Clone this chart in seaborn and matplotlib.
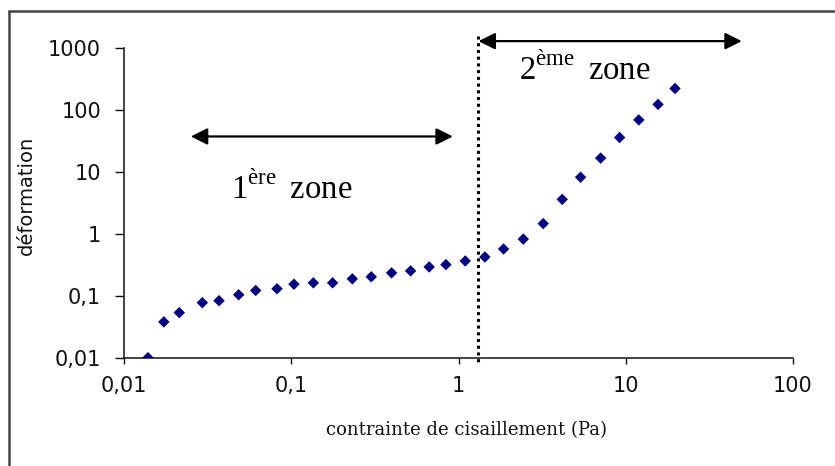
import matplotlib
matplotlib.use("Agg")
import matplotlib.pyplot as plt
from matplotlib.lines import Line2D
import seaborn as sns
import pandas as pd

# Shear stress (Pa) and resulting strain, read as a log-log flow curve
stress = [0.0139, 0.0173, 0.0214, 0.0294, 0.037, 0.0485, 0.0613, 0.0822, 0.1038,
          0.1355, 0.1767, 0.2317, 0.3008, 0.398, 0.517, 0.668, 0.841, 1.097,
          1.438, 1.86, 2.44, 3.21, 4.17, 5.37, 7.08, 9.19, 11.97, 15.6, 19.7]
strain = [0.0100, 0.0379, 0.0535, 0.0775, 0.0834, 0.104, 0.122, 0.130, 0.154,
          0.162, 0.162, 0.188, 0.203, 0.235, 0.253, 0.293, 0.319, 0.366,
          0.424, 0.571, 0.826, 1.47, 3.62, 8.26, 16.8, 36.2, 69.7, 124, 224]

x_ticks = [0.01, 0.1, 1, 10, 100]
x_tick_labels = ["0,01", "0,1", "1", "10", "100"]
y_ticks = [0.01, 0.1, 1, 10, 100, 1000]
y_tick_labels = ["0,01", "0,1", "1", "10", "100", "1000"]

# Yield stress separating the two regimes
threshold = 1.30
zone1_span = [0.0251, 0.925]
zone1_level = 37.6
zone2_span = [1.318, 49.4]
zone2_level = 1306

sns.set_theme(style="white")
plt.rcParams["font.family"] = ["DejaVu Sans"]
plt.rcParams["mathtext.fontset"] = "custom"
plt.rcParams["mathtext.rm"] = "Liberation Serif"

df = pd.DataFrame({"stress": stress, "strain": strain})

fig = plt.figure(figsize=(8.35, 4.66), dpi=100, facecolor="white")
ax = fig.add_axes([124 / 835, 1 - 357.7 / 466, (793 - 124) / 835, (357.7 - 48.3) / 466])
ax.set_facecolor("white")

sns.scatterplot(data=df, x="stress", y="strain", ax=ax, marker="D", s=34,
                color="#000080", edgecolor="none", linewidth=0, zorder=3)

ax.set_xscale("log")
ax.set_yscale("log")
ax.set_xlim(0.01, 100)
ax.set_ylim(0.01, 1000)

ax.set_xticks(x_ticks)
ax.set_xticklabels(x_tick_labels)
ax.set_yticks(y_ticks)
ax.set_yticklabels(y_tick_labels)
ax.minorticks_off()

for side in ("top", "right"):
    ax.spines[side].set_visible(False)
for side in ("left", "bottom"):
    ax.spines[side].set_color("#111111")
    ax.spines[side].set_linewidth(1.1)

ax.tick_params(axis="y", direction="out", length=6.5, width=1, color="#111111",
               labelsize=15, pad=10, labelcolor="#111111", left=True)
ax.tick_params(axis="x", direction="out", length=4, width=1, color="#111111",
               labelsize=15, pad=9, labelcolor="#111111", bottom=True)

ax.set_xlabel("contrainte de cisaillement (Pa)", family="DejaVu Serif", fontsize=13,
              color="#111111")
ax.xaxis.set_label_coords((466 - 124) / (793 - 124), (357.7 - 421) / (357.7 - 48.3))
ax.set_ylabel("déformation", fontsize=14, color="#111111")
ax.yaxis.set_label_coords((36 - 124) / (793 - 124), (357.7 - 195) / (357.7 - 48.3))

# Dotted boundary between the two zones
ax.plot([threshold, threshold], [1570, 0.00764], color="black", lw=2.2,
        linestyle=(0, (1, 1.2)), dash_capstyle="butt", clip_on=False, zorder=4)

arrow_style = dict(arrowstyle="<|-|>,head_length=0.5,head_width=0.25",
                   mutation_scale=20, color="black", lw=1.6,
                   shrinkA=0, shrinkB=0)
ax.annotate("", xy=(zone1_span[1], zone1_level), xytext=(zone1_span[0], zone1_level),
            arrowprops=arrow_style, annotation_clip=False)
ax.annotate("", xy=(zone2_span[1], zone2_level), xytext=(zone2_span[0], zone2_level),
            arrowprops=arrow_style, annotation_clip=False)

ax.text(0.101, 3.66, r"$1^{\mathrm{ère}}\,$ zone", family="Liberation Serif",
        fontsize=23.5, ha="center", va="baseline", color="black")
ax.text(5.69, 305, r"$2^{\mathrm{ème}}\,$ zone", family="Liberation Serif",
        fontsize=23.5, ha="center", va="baseline", color="black", clip_on=False)

# Chart frame
frame_kw = dict(color="#444444", lw=1.8, transform=fig.transFigure)
fig.add_artist(Line2D([9 / 835, 1.0], [1 - 10.5 / 466, 1 - 10.5 / 466], **frame_kw))
fig.add_artist(Line2D([9 / 835, 9 / 835], [0.0, 1 - 10.5 / 466], **frame_kw))

fig.savefig("out.png", dpi=100, facecolor="white")
